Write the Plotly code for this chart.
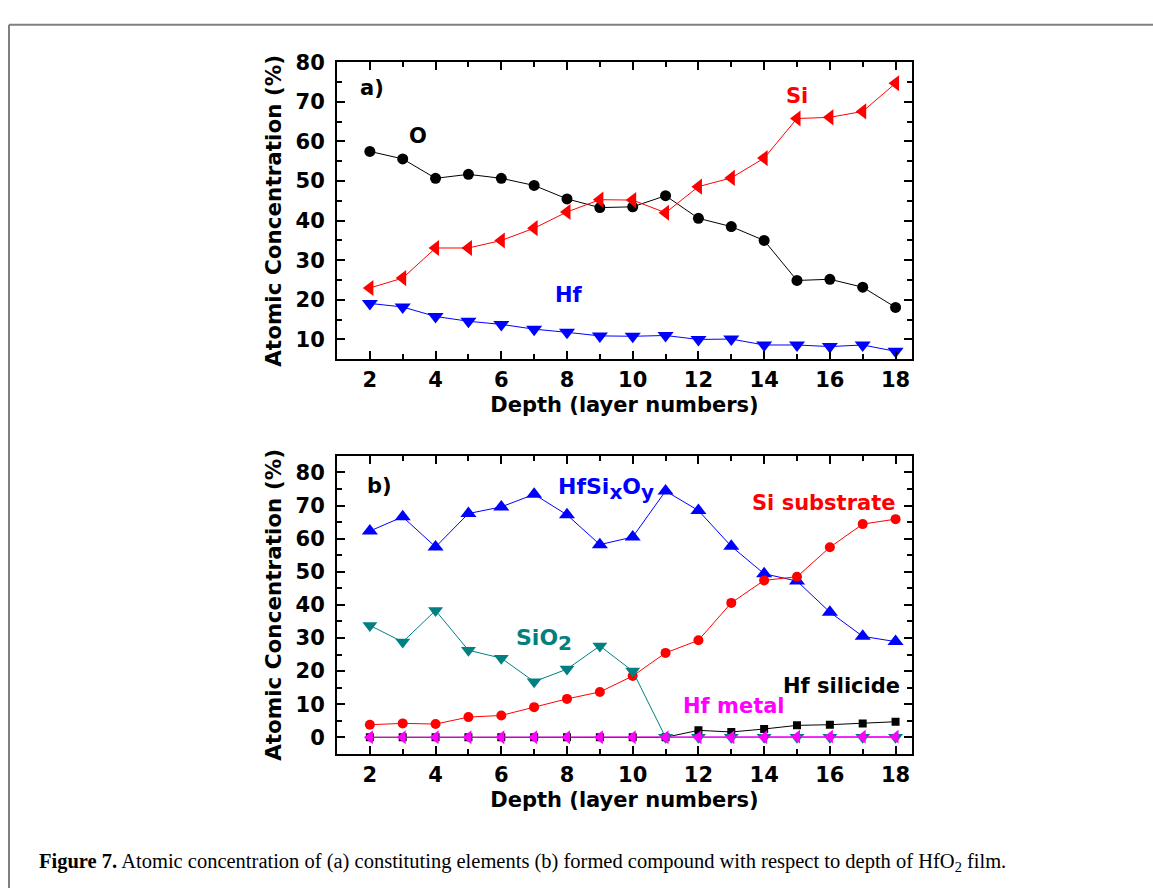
import plotly.graph_objects as go

W, H = 1153, 888

# ---------------- data ----------------
depth = list(range(2, 19))

# panel a: constituting elements
o_conc = [57.5, 55.6, 50.7, 51.7, 50.7, 48.9, 45.5, 43.3, 43.5, 46.3, 40.6, 38.5, 35.0, 24.9, 25.2, 23.2, 18.1]
si_conc = [23.0, 25.5, 33.1, 33.1, 35.0, 38.1, 42.2, 45.3, 45.2, 42.0, 48.6, 50.8, 55.8, 65.8, 66.1, 67.6, 74.7]
hf_conc = [19.1, 18.2, 15.8, 14.6, 13.8, 12.6, 11.8, 10.9, 10.8, 11.0, 10.0, 10.1, 8.6, 8.6, 8.2, 8.6, 7.0]

# panel b: formed compounds
hfsixoy = [62.3, 66.6, 57.5, 67.6, 69.6, 73.4, 67.2, 58.2, 60.5, 74.4, 68.5, 57.7, 49.4, 47.2, 37.8, 30.5, 28.9]
si_sub = [3.8, 4.2, 4.0, 6.1, 6.6, 9.1, 11.6, 13.7, 18.5, 25.5, 29.3, 40.6, 47.4, 48.5, 57.4, 64.4, 65.9]
sio2 = [33.8, 28.8, 38.3, 26.3, 23.9, 16.8, 20.6, 27.6, 20.0, 0, 0, 0, 0, 0, 0, 0, 0]
hf_silicide = [0, 0, 0, 0, 0, 0, 0, 0, 0, 0, 2.1, 1.6, 2.5, 3.6, 3.8, 4.2, 4.7]
hf_metal = [0, 0, 0, 0, 0, 0, 0, 0, 0, 0, 0, 0, 0, 0.2, 0.2, 0.2, 0.2]

x_range = [1, 18.5]
ya_range = [5, 80]
yb_range = [-5, 85]

FONT = "DejaVu Sans"


def px_x(p):
    return p / W


def px_y(p):
    return 1 - p / H


fig = go.Figure()


def add(x, y, color, symbol, size, name, xa, ya):
    fig.add_trace(go.Scatter(
        x=x, y=y, mode="lines+markers", name=name,
        line=dict(color=color, width=1),
        marker=dict(color=color, symbol=symbol, size=size, line=dict(width=0)),
        xaxis=xa, yaxis=ya, showlegend=False,
    ))


# panel a
add(depth, o_conc, "#000000", "circle", 11, "O", "x", "y")
add(depth, hf_conc, "#0000ff", "triangle-down", 14, "Hf", "x", "y")
add(depth, si_conc, "#ff0000", "triangle-left", 14, "Si", "x", "y")

# panel b
add(depth, hfsixoy, "#0000ff", "triangle-up", 14, "HfSixOy", "x2", "y2")
add(depth, si_sub, "#ff0000", "circle", 10, "Si substrate", "x2", "y2")
add(depth, hf_silicide, "#000000", "square", 8, "Hf silicide", "x2", "y2")
add(depth, sio2, "#008080", "triangle-down", 13, "SiO2", "x2", "y2")
add(depth, hf_metal, "#ff00ff", "triangle-left", 12, "Hf metal", "x2", "y2")

tickfont = dict(family=FONT, size=21, color="black", weight="bold")
xtitlefont = dict(family=FONT, size=21, color="black", weight="bold")
ytitlefont = dict(family=FONT, size=21.5, color="black", weight="bold")

common_x = dict(
    range=x_range, dtick=2, tick0=0, showline=True, linewidth=2, linecolor="black",
    mirror="allticks", ticks="inside", ticklen=8, tickwidth=2, tickcolor="black",
    minor=dict(dtick=1, ticks="inside", ticklen=5, tickwidth=2, tickcolor="black"),
    showgrid=False, zeroline=False, tickfont=tickfont, ticklabelstandoff=1,
)
common_y = dict(
    dtick=10, tick0=0, showline=True, linewidth=2, linecolor="black",
    mirror="allticks", ticks="inside", ticklen=8, tickwidth=2, tickcolor="black",
    minor=dict(dtick=5, ticks="inside", ticklen=5, tickwidth=2, tickcolor="black"),
    showgrid=False, zeroline=False, tickfont=tickfont, ticklabelstandoff=6,
)

xa_dom = [px_x(337), px_x(912)]
fig.update_layout(
    width=W, height=H,
    margin=dict(l=0, r=0, t=0, b=0),
    paper_bgcolor="white", plot_bgcolor="white",
    font=dict(family=FONT, color="black"),
    xaxis=dict(common_x, domain=xa_dom, anchor="y",
               title=dict(text="Depth (layer numbers)", font=xtitlefont, standoff=6)),
    yaxis=dict(common_y, range=ya_range, domain=[px_y(352), px_y(51)], anchor="x",
               title=dict(text="Atomic Concentration (%)", font=ytitlefont, standoff=8)),
    xaxis2=dict(common_x, domain=xa_dom, anchor="y2",
                title=dict(text="Depth (layer numbers)", font=xtitlefont, standoff=6)),
    yaxis2=dict(common_y, range=yb_range, domain=[px_y(752), px_y(450)], anchor="x2",
                title=dict(text="Atomic Concentration (%)", font=ytitlefont, standoff=8)),
)


def ann(text, x, y, color, xref="x", yref="y", xanchor="center", yanchor="middle", size=21):
    fig.add_annotation(
        text=text, x=x, y=y, xref=xref, yref=yref, showarrow=False,
        xanchor=xanchor, yanchor=yanchor,
        font=dict(family=FONT, size=size, color=color, weight="bold"),
    )


SUB = '<sub><span style="font-size:20px">{}</span></sub>'

# panel a labels
ann("a)", 2.05, 73.5, "black")
ann("O", 3.45, 61.5, "black")
ann("Si", 15.0, 71.6, "#ff0000")
ann("Hf", 8.05, 21.3, "#0000ff")

# panel b labels
ann("b)", 2.3, 75.8, "black", "x2", "y2")
ann("HfSi" + SUB.format("x") + "O" + SUB.format("y"), 7.65, 75.0, "#0000ff", "x2", "y2",
    xanchor="left", size=22)
ann("Si substrate", 15.8, 70.8, "#ff0000", "x2", "y2")
ann("SiO" + SUB.format("2"), 6.4, 29.3, "#008080", "x2", "y2", xanchor="left", size=22)
ann("Hf silicide", 18.2, 15.5, "#000000", "x2", "y2", xanchor="right")
ann("Hf metal", 13.08, 9.5, "#ff00ff", "x2", "y2")

# caption
fig.add_annotation(
    text="<b>Figure 7.</b> Atomic concentration of (a) constituting elements (b) formed compound "
         "with respect to depth of HfO<sub>2</sub> film.",
    x=px_x(37), y=px_y(862), xref="paper", yref="paper", showarrow=False,
    xanchor="left", yanchor="middle",
    font=dict(family="Liberation Serif", size=20.5, color="black"),
)

# outer frame (top and left edges)
fig.add_shape(type="line", xref="paper", yref="paper",
              x0=px_x(9), y0=px_y(13), x1=1, y1=px_y(13),
              line=dict(color="#7f7f7f", width=2))
fig.add_shape(type="line", xref="paper", yref="paper",
              x0=px_x(9), y0=px_y(13), x1=px_x(9), y1=0,
              line=dict(color="#7f7f7f", width=2))

fig.write_html("out.html")
